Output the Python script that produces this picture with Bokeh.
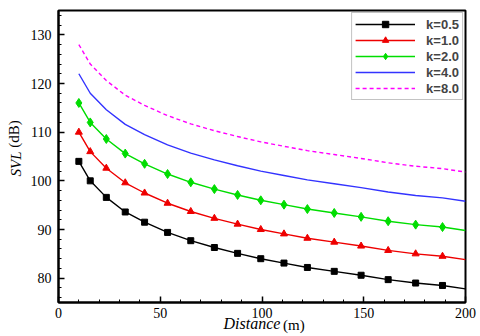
from bokeh.plotting import figure
from bokeh.models import Range1d, SingleIntervalTicker, FixedTicker, LinearAxis, Legend, LegendItem
from bokeh.embed import file_html
from bokeh.resources import INLINE

distance = [10, 15.6, 23.5, 32.8, 42.3, 53.6, 65, 76.6, 88, 99.4, 110.8, 122.3, 135.5, 148.7, 162, 175.5, 188.7, 200]
svl_k05 = [104.0, 100.0, 96.6, 93.6, 91.5, 89.4, 87.7, 86.3, 85.1, 84.0, 83.1, 82.2, 81.4, 80.6, 79.7, 79.0, 78.5, 77.8]
svl_k10 = [110.0, 106.0, 102.6, 99.6, 97.5, 95.4, 93.7, 92.3, 91.1, 90.0, 89.1, 88.2, 87.4, 86.6, 85.7, 85.0, 84.5, 83.8]
svl_k20 = [116.0, 112.0, 108.6, 105.6, 103.5, 101.4, 99.7, 98.3, 97.1, 96.0, 95.1, 94.2, 93.4, 92.6, 91.7, 91.0, 90.5, 89.8]
svl_k40 = [122.0, 118.0, 114.6, 111.6, 109.5, 107.4, 105.7, 104.3, 103.1, 102.0, 101.1, 100.2, 99.4, 98.6, 97.7, 97.0, 96.5, 95.8]
svl_k80 = [128.0, 124.0, 120.6, 117.6, 115.5, 113.4, 111.7, 110.3, 109.1, 108.0, 107.1, 106.2, 105.4, 104.6, 103.7, 103.0, 102.5, 101.8]
labels = ["k=0.5", "k=1.0", "k=2.0", "k=4.0", "k=8.0"]

NB = "\u00a0"

p = figure(width=480, height=336, output_backend="svg", toolbar_location=None,
           x_range=Range1d(0, 200), y_range=Range1d(75, 135),
           min_border_left=58, min_border_right=15, min_border_top=10, min_border_bottom=34)
p.grid.visible = False
p.outline_line_color = "black"
p.outline_line_width = 2
p.background_fill_color = "white"
p.border_fill_color = "white"

p.xaxis.ticker = SingleIntervalTicker(interval=50, num_minor_ticks=5)
p.yaxis.ticker = SingleIntervalTicker(interval=10, num_minor_ticks=5)
for ax in (p.xaxis, p.yaxis):
    ax.major_tick_in = 6
    ax.major_tick_out = 0
    ax.minor_tick_in = 3
    ax.minor_tick_out = 0
    ax.axis_line_width = 2
    ax.major_tick_line_width = 1.5
    ax.minor_tick_line_width = 1
    ax.major_label_text_font = "Liberation Serif"
    ax.major_label_text_font_size = "14px"
    ax.major_label_text_color = "black"
    ax.axis_label_text_font = "Liberation Serif"
    ax.axis_label_text_font_style = "italic"
    ax.axis_label_text_color = "black"
p.xaxis.major_label_standoff = 5
p.yaxis.major_label_standoff = 7

# italic variable names on the primary axes
p.xaxis.axis_label = "Distance" + NB * 5
p.xaxis.axis_label_text_font_size = "16px"
p.xaxis.axis_label_standoff = -6
p.yaxis.axis_label = "SVL" + NB * 4
p.yaxis.axis_label_text_font_size = "15px"
p.yaxis.axis_label_standoff = 4

# upright units on label-only axes, pulled onto the same line
unit_x = LinearAxis(ticker=FixedTicker(ticks=[]), axis_label=NB * 17 + "(m)",
                    axis_line_color=None, major_tick_line_color=None, minor_tick_line_color=None,
                    axis_label_text_font="Liberation Serif", axis_label_text_font_size="15px",
                    axis_label_text_font_style="normal", axis_label_text_color="black",
                    axis_label_standoff=-18)
p.add_layout(unit_x, "below")
unit_y = LinearAxis(ticker=FixedTicker(ticks=[]), axis_label=NB * 12 + "(dB)",
                    axis_line_color=None, major_tick_line_color=None, minor_tick_line_color=None,
                    axis_label_text_font="Liberation Serif", axis_label_text_font_size="15px",
                    axis_label_text_font_style="normal", axis_label_text_color="black",
                    axis_label_standoff=-17)
p.add_layout(unit_y, "left")

items = []
r1 = p.line(distance, svl_k05, line_color="black", line_width=1.4)
m1 = p.scatter(distance[:-1], svl_k05[:-1], marker="square", size=6, color="black")
items.append(LegendItem(label=labels[0], renderers=[r1, m1]))
r2 = p.line(distance, svl_k10, line_color="#ee0000", line_width=1.4)
m2 = p.scatter(distance[:-1], svl_k10[:-1], marker="triangle", size=7, color="#ee0000")
items.append(LegendItem(label=labels[1], renderers=[r2, m2]))
r3 = p.line(distance, svl_k20, line_color="#00dd00", line_width=1.4)
m3 = p.scatter(distance[:-1], svl_k20[:-1], marker="diamond", size=9, color="#00dd00")
items.append(LegendItem(label=labels[2], renderers=[r3, m3]))
r4 = p.line(distance, svl_k40, line_color="#3333ff", line_width=1.4)
items.append(LegendItem(label=labels[3], renderers=[r4]))
r5 = p.line(distance, svl_k80, line_color="#ff00ff", line_width=1.4, line_dash="4 3")
items.append(LegendItem(label=labels[4], renderers=[r5]))

legend = Legend(items=items, location="top_right", margin=2, padding=3,
                glyph_width=60, glyph_height=16, label_height=16, label_standoff=11,
                spacing=0, border_line_color="#888888", border_line_width=1,
                label_text_font="Liberation Sans", label_text_font_style="bold",
                label_text_font_size="13px", background_fill_alpha=1)
p.add_layout(legend)

open("out.html", "w").write(file_html(p, INLINE))
